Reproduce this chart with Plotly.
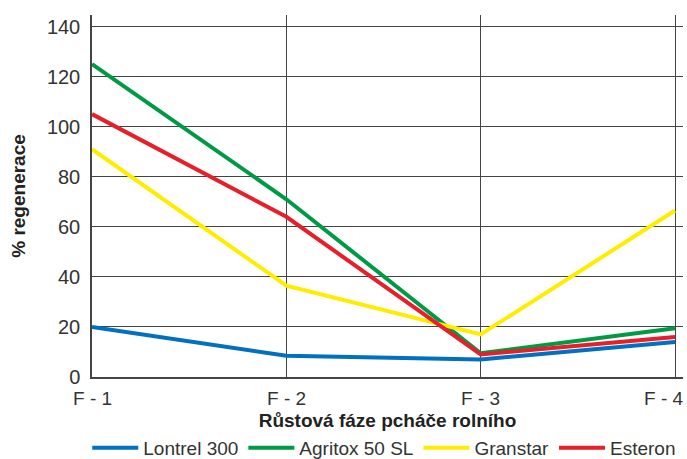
import plotly.graph_objects as go

phases = ["F - 1", "F - 2", "F - 3", "F - 4"]
y_ticks = [0, 20, 40, 60, 80, 100, 120, 140]
lontrel = [20, 8.5, 7, 14]
agritox = [125, 71, 9.5, 19.5]
granstar = [91, 36.5, 17, 66.5]
esteron = [105, 64, 9, 16]

series = [
    ("Lontrel 300", lontrel, "#0070BF"),
    ("Agritox 50 SL", agritox, "#009A44"),
    ("Granstar", granstar, "#FFED00"),
    ("Esteron", esteron, "#E6202A"),
]

FONT = "Liberation Sans"
FS = 19
fig = go.Figure()
xs = list(range(len(phases)))
for name, vals, col in series:
    fig.add_trace(go.Scatter(x=xs, y=vals, name=name, mode="lines",
                             line=dict(color=col, width=4)))

# category labels under the x axis (last one kept inside the page)
for i, lab in enumerate(phases):
    last = i == len(phases) - 1
    fig.add_annotation(x=i, y=0, xref="x", yref="paper", text=lab,
                       showarrow=False, yanchor="middle", yshift=-21,
                       xanchor="right" if last else "center",
                       xshift=10 if last else 0,
                       font=dict(family=FONT, size=FS, color="#333333"))

fig.update_layout(
    width=687, height=459,
    margin=dict(l=92, r=4, t=15, b=82, autoexpand=False),
    paper_bgcolor="white", plot_bgcolor="white",
    font=dict(family=FONT, size=FS, color="#333333"),
    showlegend=True,
    legend=dict(orientation="h", x=-0.008, xanchor="left", y=-0.196, yanchor="middle",
                font=dict(size=FS, color="#333333"), tracegroupgap=0, itemwidth=46),
    xaxis=dict(
        range=[0, 3.041], tickvals=xs, showticklabels=False,
        showgrid=True, gridcolor="#444444", gridwidth=1.4,
        showline=True, linecolor="#444444", linewidth=1.5,
        zeroline=False, ticks="",
        title=dict(text="<b>Růstová fáze pcháče rolního</b>", standoff=36,
                   font=dict(size=19, color="#222222")),
    ),
    yaxis=dict(
        range=[0, 144.6], tickvals=y_ticks,
        showgrid=True, gridcolor="#444444", gridwidth=1.4,
        showline=True, linecolor="#444444", linewidth=1.5,
        zeroline=False, ticks="", ticklabelstandoff=6,
        tickfont=dict(size=20),
        title=dict(text="<b>% regenerace</b>", standoff=16,
                   font=dict(size=19, color="#222222")),
    ),
)

fig.write_html("out.html", config={"displayModeBar": False},
               post_script="document.body.style.margin='0';document.body.style.overflow='hidden';")
